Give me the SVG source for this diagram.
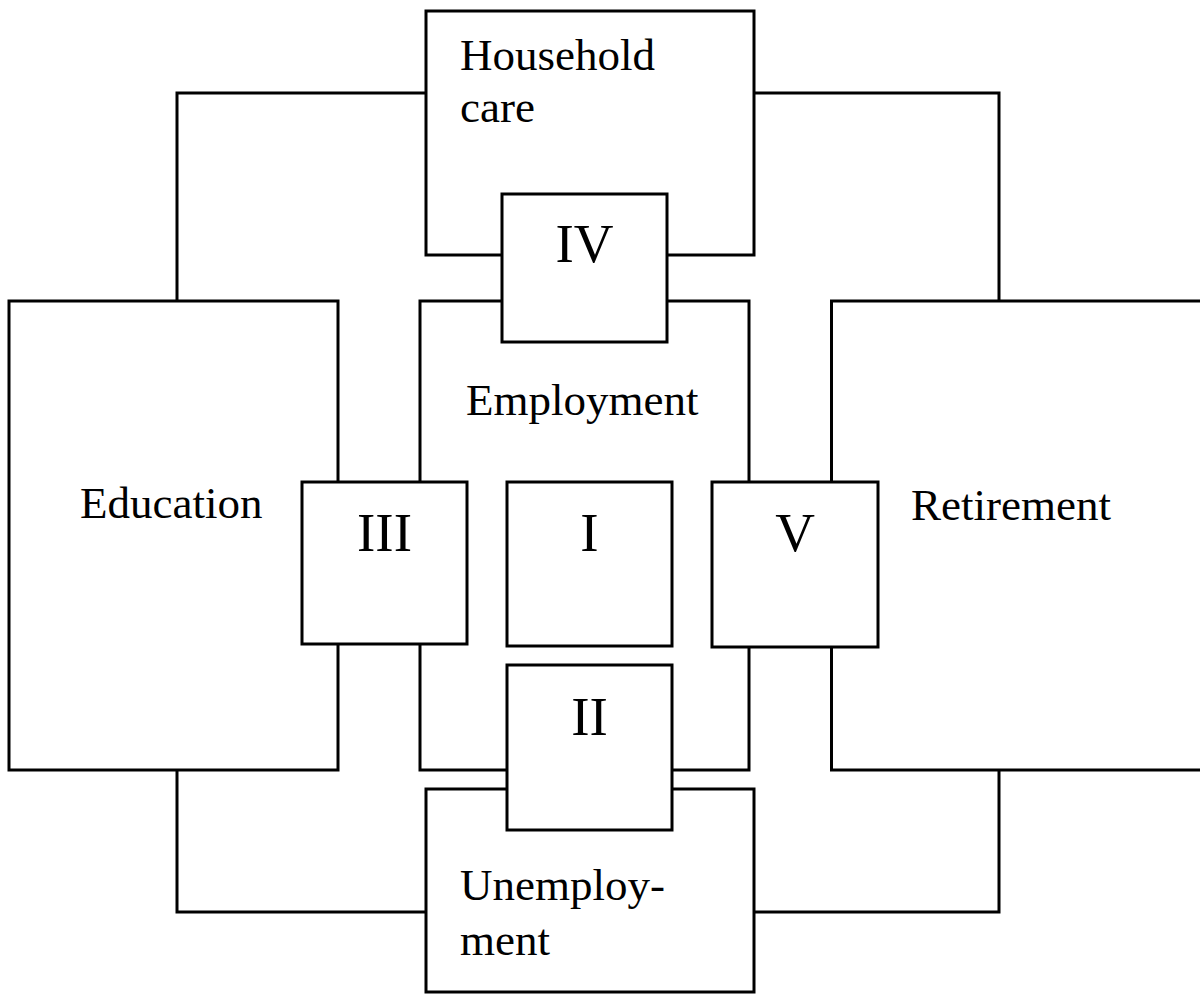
<svg xmlns="http://www.w3.org/2000/svg" width="1200" height="994" viewBox="0 0 1200 994">
<style>
.box{fill:#fff;stroke:#000;stroke-width:3}
.con{fill:none;stroke:#000;stroke-width:3}
.lbl{font-family:"Liberation Serif","Times New Roman",serif;font-size:45px;fill:#000}
.num{font-family:"Liberation Serif","Times New Roman",serif;font-size:55px;fill:#000;text-anchor:middle}
</style>
<rect width="1200" height="994" fill="#fff"/>
<g id="connectors">
<polyline class="con" points="426,93 177,93 177,301"/>
<polyline class="con" points="754,93 999,93 999,301"/>
<polyline class="con" points="177,770 177,912 426,912"/>
<polyline class="con" points="754,912 999,912 999,770"/>
</g>
<g id="household">
<rect class="box" x="426" y="11" width="328" height="244"/>
<text class="lbl" x="460" y="70">Household</text>
<text class="lbl" x="460" y="122">care</text>
</g>
<g id="unemployment">
<rect class="box" x="426" y="789" width="328" height="203"/>
<text class="lbl" x="460" y="900">Unemploy-</text>
<text class="lbl" x="460" y="955">ment</text>
</g>
<g id="education">
<rect class="box" x="9" y="301" width="329" height="469"/>
<text class="lbl" x="80" y="518">Education</text>
</g>
<g id="employment">
<rect class="box" x="420" y="301" width="329" height="469"/>
<text class="lbl" x="466" y="415">Employment</text>
</g>
<g id="retirement">
<rect class="box" x="831.5" y="301" width="370" height="469"/>
<text class="lbl" x="911" y="520">Retirement</text>
</g>
<g id="n3">
<rect class="box" x="302" y="482" width="165" height="162"/>
<text class="num" x="384.5" y="551">III</text>
</g>
<g id="n1">
<rect class="box" x="507" y="482" width="165" height="164"/>
<text class="num" x="589.5" y="551">I</text>
</g>
<g id="n5">
<rect class="box" x="712" y="482" width="166" height="165"/>
<text class="num" x="795" y="551">V</text>
</g>
<g id="n4">
<rect class="box" x="502" y="194" width="165" height="148"/>
<text class="num" x="584.5" y="262">IV</text>
</g>
<g id="n2">
<rect class="box" x="507" y="665" width="165" height="165"/>
<text class="num" x="589.5" y="735">II</text>
</g>
</svg>
